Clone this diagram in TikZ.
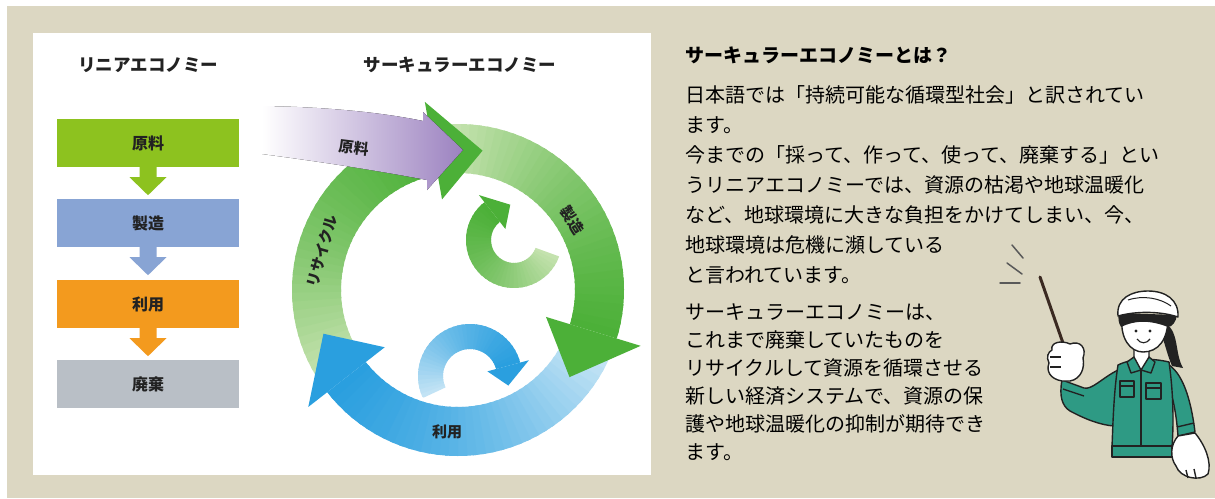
\documentclass[tikz,border=0pt]{standalone}
\usepackage{fontspec}
\newfontfamily\jp{Noto Sans CJK JP}
\usetikzlibrary{calc}

\definecolor{beige}{HTML}{DCD7C2}
\definecolor{lingreen}{HTML}{8DC21F}
\definecolor{linblue}{HTML}{88A4D4}
\definecolor{linorange}{HTML}{F39A1E}
\definecolor{lingray}{HTML}{B9BFC6}
\definecolor{cgreen}{HTML}{4CB038}
\definecolor{cgreenlt}{HTML}{C4E2AE}
\definecolor{cblue}{HTML}{2A9FDF}
\definecolor{cbluelt}{HTML}{C2E3F5}
\definecolor{cpurple}{HTML}{9C82C0}
\definecolor{jacket}{HTML}{2E9A84}
\definecolor{stick}{HTML}{3B2A22}
\definecolor{ink}{HTML}{222222}

% ring band, colour runs from #6 to #7 along it
% #1 centre, #2 inner r, #3 outer r, #4 start angle, #5 end angle
\newcommand{\ringband}[7]{%
  \foreach \k in {0,...,35}{%
    \pgfmathsetmacro{\bandA}{#4+(#5-#4)*\k/36}%
    \pgfmathsetmacro{\bandB}{#4+(#5-#4)*min(\k+1.4,36)/36}%
    \pgfmathtruncatemacro{\bandP}{100*(1.5*\k/35-0.5*(\k/35)*(\k/35))}%
    \fill[#7!\bandP!#6] ($(#1)+(\bandA:#2)$) arc[start angle=\bandA, end angle=\bandB, radius=#2]
      -- ($(#1)+(\bandB:#3)$) arc[start angle=\bandB, end angle=\bandA, radius=#3] -- cycle;
  }}
% arrow head on a ring: base angle #4, tip angle #5, overhang #6
\newcommand{\ringhead}[7]{%
  \pgfmathsetmacro{\headIn}{#2-#6}%
  \pgfmathsetmacro{\headOut}{#3+#6}%
  \pgfmathsetmacro{\headMid}{(#2+#3)/2}%
  \fill[#7] ($(#1)+(#4:\headIn)$) -- ($(#1)+(#5:\headMid)$) -- ($(#1)+(#4:\headOut)$) -- cycle;}
% block arrow under a box
\newcommand{\downstep}[2]{%
  \fill[#2] (#1.south) ++(-8.5,0) -- ++(0,10) -- ++(-10,0) -- ++(18.5,18)
    -- ++(18.5,-18) -- ++(-10,0) -- ++(0,-10) -- cycle;}

\begin{document}
\begin{tikzpicture}[x=1pt, y=-1pt,
  every node/.style={font=\jp},
  headline/.style={text=ink, font=\jp\bfseries\fontsize{17.5pt}{20pt}\selectfont},
  linbox/.style={minimum width=182pt, minimum height=48pt, inner sep=0pt, text=ink,
    font=\jp\bfseries\fontsize{16pt}{18pt}\selectfont},
  ringlabel/.style={inner sep=0pt, text=ink, font=\jp\bfseries\fontsize{15pt}{17pt}\selectfont},
  bodytext/.style={anchor=west, inner sep=0pt, text=black, font=\jp\fontsize{20pt}{24pt}\selectfont},
  figline/.style={draw=ink, line width=1.4pt, line join=round},
  hair/.style={fill=ink},
  motion/.style={draw=ink!75, line width=1.5pt, line cap=round}]

  \useasboundingbox (0,0) rectangle (1215,498);
  \fill[white] (0,0) rectangle (1215,498);
  \fill[beige] (7,6) rectangle (1215,498);
  \fill[white] (33,33) rectangle (651,475);

  % linear economy
  \node[headline] (ltitle) at (148,65) {リニアエコノミー};
  \node[linbox, fill=lingreen] (lraw) at (148,143) {原料};
  \node[linbox, fill=linblue] (lmake) at (148,223) {製造};
  \node[linbox, fill=linorange] (luse) at (148,304) {利用};
  \node[linbox, fill=lingray] (lwaste) at (148,384) {廃棄};
  \downstep{lraw}{lingreen}
  \downstep{lmake}{linblue}
  \downstep{luse}{linorange}

  % circular economy
  \node[headline] (ctitle) at (460,65) {サーキュラーエコノミー};
  \coordinate (ring) at (458,290);
  \coordinate (gturn) at (514,240);
  \coordinate (bturn) at (470,376);

  % small turning arrows inside
  \ringband{gturn}{23}{48}{20}{232}{cgreenlt}{cgreen}
  \ringhead{gturn}{23}{48}{232}{264}{9}{cgreen}
  \ringband{bturn}{27}{52}{155}{345}{cbluelt}{cblue}
  \ringhead{bturn}{27}{52}{345}{14}{9}{cblue}

  % big cycle
  \fill[white, even odd rule] (ring) circle[radius=170] (ring) circle[radius=113];
  \ringband{ring}{117}{166}{148}{260}{cgreenlt}{cgreen}
  \ringband{ring}{117}{166}{268}{377}{cgreenlt}{cgreen}
  \ringband{ring}{117}{166}{25}{142}{cbluelt}{cblue}
  \ringhead{ring}{117}{166}{260}{280}{25}{cgreen}
  \ringhead{ring}{117}{166}{377}{398}{25}{cgreen}
  \ringhead{ring}{117}{166}{142}{162}{24}{cblue}

  % raw material coming in
  \fill[left color=white, middle color=cpurple, right color=cpurple]
    (262,106) .. controls (330,107) and (385,113) .. (423,121) -- (423,112) -- (463,150)
    -- (427,190) -- (427,180) .. controls (385,172) and (330,163) .. (262,154) -- cycle;

  \node[ringlabel, rotate=-7] (craw) at (354,148) {原料};
  \node[ringlabel, rotate=-58] (cmake) at (572,220) {製造};
  \node[ringlabel] (cuse) at (447,432) {利用};
  \node[ringlabel, rotate=74] (crecycle) at (322,251) {リサイクル};

  % explanation
  \node[anchor=west, inner sep=0pt, text=black, font=\jp\bfseries\fontsize{19pt}{22pt}\selectfont]
    (qtitle) at (685,55) {サーキュラーエコノミーとは？};
  \foreach \line [count=\i] in {日本語では「持続可能な循環型社会」と訳されてい, ます。,
      今までの「採って、作って、使って、廃棄する」とい,
      うリニアエコノミーでは、資源の枯渇や地球温暖化,
      など、地球環境に大きな負担をかけてしまい、今、,
      地球環境は危機に瀕している, と言われています。}
    \node[bodytext] (pa\i) at (685,{95+30*(\i-1)}) {\line};
  \foreach \line [count=\i] in {サーキュラーエコノミーは、, これまで廃棄していたものを,
      リサイクルして資源を循環させる, 新しい経済システムで、資源の保,
      護や地球温暖化の抑制が期待でき, ます。}
    \node[bodytext] (pb\i) at (685,{312+28*(\i-1)}) {\line};

  % worker with a pointer
  \draw[motion] (1012,245) -- (1023,258);
  \draw[motion] (1007,263) -- (1022,274);
  \draw[motion] (1000,283) -- (1020,283);
  \draw[stick, line width=3pt, line cap=round] (1040,277) -- (1064,346);

  \filldraw[figline, fill=jacket] (1118,370) .. controls (1102,378) and (1092,390) .. (1084,388)
    -- (1062,380) .. controls (1059,396) and (1062,406) .. (1070,411)
    .. controls (1085,419) and (1100,425) .. (1114,426) -- cycle;
  \draw[figline] (1063,389) -- (1084,396);
  \filldraw[figline, fill=white] (1052,350) .. controls (1050,342) and (1062,340) .. (1070,344)
    .. controls (1080,340) and (1087,348) .. (1083,358) .. controls (1085,368) and (1081,379) .. (1070,381)
    -- (1062,381) .. controls (1050,379) and (1046,371) .. (1049,363)
    .. controls (1046,357) and (1048,352) .. (1052,350) -- cycle;
  \draw[figline] (1050,357) -- (1061,357);
  \draw[figline] (1050,367) -- (1061,367);

  \fill[hair] (1163,322) .. controls (1180,330) and (1174,352) .. (1183,368)
    -- (1172,366) .. controls (1166,352) and (1164,338) .. (1159,330) -- cycle;
  \filldraw[figline, fill=jacket] (1166,363) .. controls (1183,372) and (1191,400) .. (1195,432)
    -- (1178,436) .. controls (1176,410) and (1172,392) .. (1166,380) -- cycle;
  \draw[figline] (1177,427) -- (1194,423);
  \filldraw[figline, fill=jacket] (1118,365) .. controls (1132,358) and (1152,358) .. (1169,362)
    .. controls (1173,390) and (1174,420) .. (1172,447) -- (1112,447)
    .. controls (1113,420) and (1114,390) .. (1118,365) -- cycle;
  \filldraw[figline, fill=jacket] (1112,446) rectangle (1172,457);
  \draw[figline] (1141,370) -- (1141,446);
  \draw[figline] (1120,381) rectangle (1134,397) (1120,386) -- (1134,386);
  \draw[figline] (1146,383) rectangle (1161,399) (1146,388) -- (1161,388);
  \filldraw[figline, fill=white] (1134,346) -- (1134,362) -- (1141,370) -- (1149,362) -- (1149,346);
  \filldraw[figline, fill=jacket] (1127,362) -- (1134,357) -- (1141,370) -- (1131,373) -- cycle;
  \filldraw[figline, fill=jacket] (1155,362) -- (1149,357) -- (1141,370) -- (1151,373) -- cycle;
  \filldraw[figline, fill=white] (1178,436) .. controls (1170,445) and (1170,458) .. (1176,466)
    .. controls (1180,478) and (1200,482) .. (1208,474) .. controls (1212,462) and (1205,445) .. (1195,433) -- cycle;
  \draw[figline] (1186,470) -- (1188,478) (1194,469) -- (1196,478);

  \filldraw[figline, fill=white] (1122,318) .. controls (1120,338) and (1130,352) .. (1143,352)
    .. controls (1158,352) and (1168,340) .. (1168,318) -- cycle;
  \fill[hair] (1119,313) -- (1177,315) .. controls (1176,322) and (1172,327) .. (1168,327)
    .. controls (1150,320) and (1135,320) .. (1121,327) .. controls (1118,322) and (1118,318) .. (1119,313) -- cycle;
  \filldraw[figline, fill=white] (1118,316) .. controls (1116,298) and (1132,291) .. (1148,291)
    .. controls (1166,291) and (1179,300) .. (1178,317) .. controls (1160,311) and (1136,311) .. (1118,316) -- cycle;
  \draw[figline, line width=1pt] (1128,300) .. controls (1143,295) and (1160,298) .. (1171,306);
  \fill[ink] (1136,331) circle[radius=1.6] (1150,331) circle[radius=1.6];
  \draw[figline, line width=1.1pt] (1137,339) .. controls (1140,344) and (1147,344) .. (1150,339);
\end{tikzpicture}
\end{document}
